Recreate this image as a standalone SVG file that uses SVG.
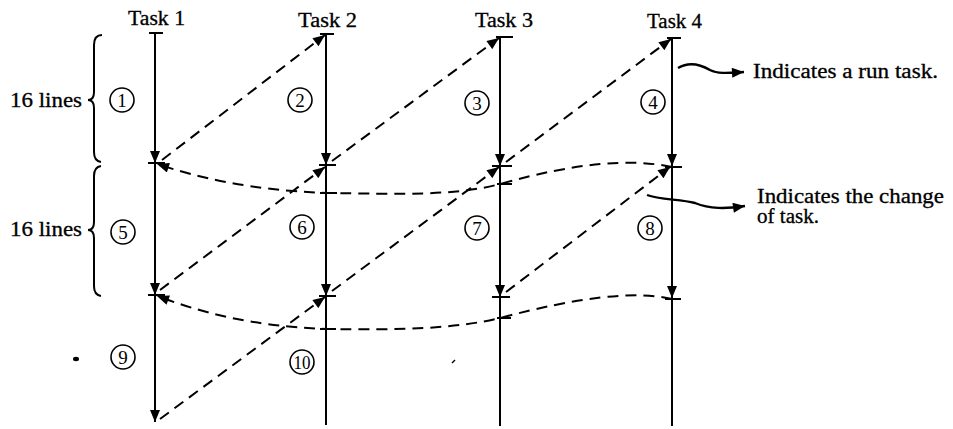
<svg xmlns="http://www.w3.org/2000/svg" width="953" height="429" viewBox="0 0 953 429">
<style>
  .t { font-family: "Liberation Serif", "Times New Roman", serif; font-size: 20px; fill: #000; stroke: #000; stroke-width: 0.3; }
  .n { font-family: "Liberation Serif", "Times New Roman", serif; font-size: 19px; fill: #000; text-anchor: middle; }
  .run { stroke: #000; stroke-width: 2; fill: none; }
  .tick { stroke: #000; stroke-width: 2; fill: none; }
  .sw { stroke: #000; stroke-width: 2; fill: none; stroke-dasharray: 11 7; }
  .circ { stroke: #000; stroke-width: 1.6; fill: none; }
  .brace { stroke: #000; stroke-width: 2; fill: none; }
  .wave { stroke: #000; stroke-width: 2.4; fill: none; }
</style>
<defs>
  <marker id="ah" viewBox="0 0 12 10" refX="12" refY="5" markerWidth="13" markerHeight="10" orient="auto" markerUnits="userSpaceOnUse">
    <path d="M0,0 L12,5 L0,10 z" fill="#000"/>
  </marker>
</defs>

<g id="labels">
  <text class="t" x="128" y="25" textLength="57" lengthAdjust="spacingAndGlyphs">Task 1</text>
  <text class="t" x="298" y="27" textLength="59" lengthAdjust="spacingAndGlyphs">Task 2</text>
  <text class="t" x="475" y="27" textLength="58" lengthAdjust="spacingAndGlyphs">Task 3</text>
  <text class="t" x="647" y="28" textLength="55" lengthAdjust="spacingAndGlyphs">Task 4</text>
  <text class="t" x="10" y="107" textLength="72" lengthAdjust="spacingAndGlyphs">16 lines</text>
  <text class="t" x="10" y="236" textLength="72" lengthAdjust="spacingAndGlyphs">16 lines</text>
  <text class="t" x="753" y="78" textLength="185" lengthAdjust="spacingAndGlyphs">Indicates a run task.</text>
  <text class="t" x="757" y="203" textLength="187" lengthAdjust="spacingAndGlyphs">Indicates the change</text>
  <text class="t" x="757" y="223" textLength="62" lengthAdjust="spacingAndGlyphs">of task.</text>
</g>

<g id="braces">
  <path class="brace" d="M102,35 Q94,35 94,45 L94,92 Q94,100 88,100 Q94,100 94,108 L94,152 Q94,161 101,162"/>
  <path class="brace" d="M101,166 Q94,167 94,176 L94,222 Q94,230 88,230 Q94,230 94,238 L94,286 Q94,295 101,296"/>
</g>

<g id="task1">
  <path class="tick" d="M149,33 H163 M148,163 H165 M148,295 H165"/>
  <path class="run" d="M155,33 V163" marker-end="url(#ah)"/>
  <path class="run" d="M155,163 V295" marker-end="url(#ah)"/>
  <path class="run" d="M155,295 V422" marker-end="url(#ah)"/>
</g>
<g id="task2">
  <path class="tick" d="M320,34 H334 M319,165 H336 M319,296 H336 M320,193 H337 M320,329 H336"/>
  <path class="run" d="M326,34 V165" marker-end="url(#ah)"/>
  <path class="run" d="M326,165 V296" marker-end="url(#ah)"/>
  <path class="run" d="M326,296 V425"/>
</g>
<g id="task3">
  <path class="tick" d="M496,37 H513 M492,166 H512 M492,297 H510 M497,184 H512 M497,318 H511"/>
  <path class="run" d="M500,37 V166" marker-end="url(#ah)"/>
  <path class="run" d="M500,166 V297" marker-end="url(#ah)"/>
  <path class="run" d="M500,297 V426"/>
</g>
<g id="task4">
  <path class="tick" d="M667,38 H681 M665,167 H682 M665,299 H681"/>
  <path class="run" d="M672,38 V166" marker-end="url(#ah)"/>
  <path class="run" d="M672,166 V298" marker-end="url(#ah)"/>
  <path class="run" d="M672,298 V426"/>
</g>

<g id="circles">
  <circle class="circ" cx="122" cy="100" r="12"/><text class="n" x="122" y="106.5">1</text>
  <circle class="circ" cx="300" cy="100" r="12"/><text class="n" x="300" y="106.5">2</text>
  <circle class="circ" cx="477" cy="103" r="12"/><text class="n" x="477" y="109.5">3</text>
  <circle class="circ" cx="653" cy="102" r="12"/><text class="n" x="653" y="108.5">4</text>
  <circle class="circ" cx="123" cy="232" r="12"/><text class="n" x="123" y="238.5">5</text>
  <circle class="circ" cx="302" cy="227" r="12"/><text class="n" x="302" y="233.5">6</text>
  <circle class="circ" cx="477" cy="228" r="12"/><text class="n" x="477" y="234.5">7</text>
  <circle class="circ" cx="650" cy="228" r="12"/><text class="n" x="650" y="234.5">8</text>
  <circle class="circ" cx="123" cy="357" r="12"/><text class="n" x="123" y="363.5">9</text>
  <circle class="circ" cx="302" cy="362" r="12"/><text class="n" x="302" y="368.5" textLength="17" lengthAdjust="spacingAndGlyphs">10</text>
</g>

<g id="connectors">
  <path class="sw" d="M162,160 L325,35" marker-end="url(#ah)"/>
  <path class="sw" d="M332,161 L499,38" marker-end="url(#ah)"/>
  <path class="sw" d="M506,162 L671,39" marker-end="url(#ah)"/>
  <path class="sw" d="M160,290 L325,167" marker-end="url(#ah)"/>
  <path class="sw" d="M332,291 L499,167" marker-end="url(#ah)"/>
  <path class="sw" d="M506,292 L670,167" marker-end="url(#ah)"/>
  <path class="sw" d="M160,419 L325,297" marker-end="url(#ah)"/>
  <path class="sw" d="M672,167 C630,158 575,163 500,184 C455,196 400,194 326,193 C250,190 200,178 157,164" marker-end="url(#ah)"/>
  <path class="sw" d="M672,299 C635,290 575,298 500,318 C455,329 400,330 326,329 C250,326 200,312 157,296" marker-end="url(#ah)"/>
  <path class="wave" d="M678,68 C688,62 698,63 710,70 C718,74 728,73 744,72" marker-end="url(#ah)"/>
  <path class="wave" d="M647,195 C660,200 680,199 695,203 C710,209 725,209 745,206" marker-end="url(#ah)"/>
</g>

<g id="marks">
  <ellipse cx="76" cy="359" rx="3" ry="2.2" fill="#000"/>
  <path d="M452,363 L455,360" stroke="#000" stroke-width="1.5"/>
</g>
</svg>
